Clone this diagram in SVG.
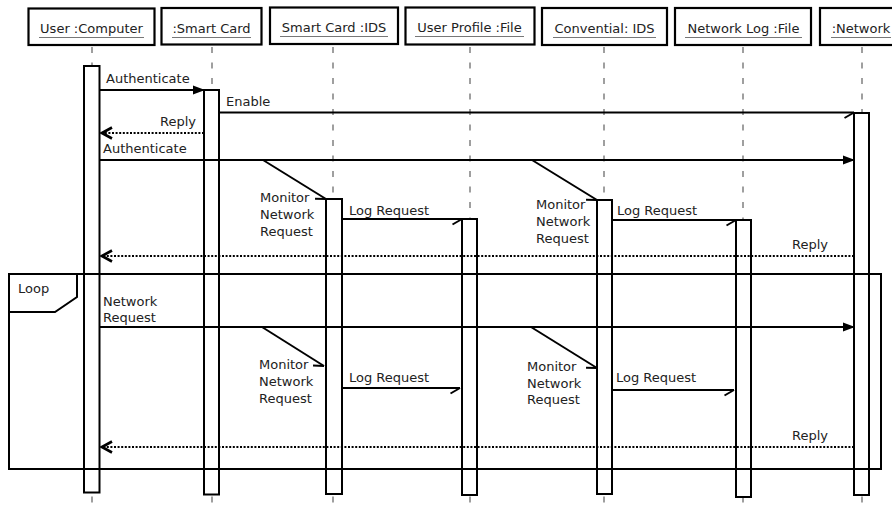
<svg xmlns="http://www.w3.org/2000/svg" width="892" height="511" viewBox="0 0 892 511">
<style>
  text { font-family: "DejaVu Sans", "Liberation Sans", sans-serif; font-size: 13px; fill: #222; }
  .hd { text-anchor: middle; }
  .ul { stroke: #777; stroke-width: 1.2; }
  .box { fill: #fff; stroke: #000; stroke-width: 2.2; }
  .life { stroke: #888; stroke-width: 1.6; stroke-dasharray: 6 9.5; fill: none; }
  .act { fill: #fff; stroke: #000; stroke-width: 2; }
  .msg { stroke: #000; stroke-width: 2; fill: none; }
  .ret { stroke: #000; stroke-width: 2.2; fill: none; stroke-dasharray: 2 1.6; }
  .frame { fill: none; stroke: #000; stroke-width: 2; }
</style>
<defs>
  <marker id="filled" viewBox="0 0 12 10" refX="11" refY="5" markerWidth="12" markerHeight="10" orient="auto" markerUnits="userSpaceOnUse">
    <path d="M0,0.5 L12,5 L0,9.5 z" fill="#000"/>
  </marker>
  <marker id="half" viewBox="-12 -2 14 10" refX="0" refY="0" markerWidth="14" markerHeight="10" orient="auto" markerUnits="userSpaceOnUse">
    <path d="M0,0 L-9.5,5.5" stroke="#000" stroke-width="2" fill="none"/>
  </marker>
  <marker id="open" viewBox="-13 -7 15 14" refX="0" refY="0" markerWidth="15" markerHeight="14" orient="auto" markerUnits="userSpaceOnUse">
    <path d="M-10,-5.5 L0,0 L-10,5.5" stroke="#000" stroke-width="2.6" fill="none"/>
  </marker>
</defs>
<rect x="0" y="0" width="892" height="511" fill="#fff"/>

<g id="user-computer">
  <line class="life" x1="92" y1="47" x2="92" y2="511"/>
  <rect class="box" x="28.5" y="8.5" width="126" height="36.5"/>
  <text class="hd" x="91.5" y="33">User :Computer</text>
  <line class="ul" x1="39" y1="37.5" x2="144" y2="37.5"/>
  <rect class="act" x="84" y="66" width="15.5" height="426.5"/>
</g>
<g id="smart-card">
  <line class="life" x1="212" y1="47" x2="212" y2="511"/>
  <rect class="box" x="161.5" y="8" width="100" height="36.5"/>
  <text class="hd" x="211.5" y="33">:Smart Card</text>
  <line class="ul" x1="172" y1="37.5" x2="251" y2="37.5"/>
  <rect class="act" x="204" y="90" width="15" height="404.5"/>
</g>
<g id="smart-card-ids">
  <line class="life" x1="333" y1="47" x2="333" y2="511"/>
  <rect class="box" x="270" y="7.5" width="128" height="36.5"/>
  <text class="hd" x="334" y="32">Smart Card :IDS</text>
  <line class="ul" x1="280" y1="36.5" x2="388" y2="36.5"/>
  <rect class="act" x="326" y="199" width="16" height="295"/>
</g>
<g id="user-profile-file">
  <line class="life" x1="470" y1="47" x2="470" y2="511"/>
  <rect class="box" x="405.5" y="7.5" width="129" height="37"/>
  <text class="hd" x="469.5" y="32">User Profile :File</text>
  <line class="ul" x1="415" y1="36.5" x2="524" y2="36.5"/>
  <rect class="act" x="462" y="219" width="15" height="276"/>
</g>
<g id="convential-ids">
  <line class="life" x1="604" y1="47" x2="604" y2="511"/>
  <rect class="box" x="542" y="8" width="125" height="37"/>
  <text class="hd" x="604.5" y="33">Convential: IDS</text>
  <line class="ul" x1="553" y1="37.5" x2="656" y2="37.5"/>
  <rect class="act" x="597" y="200" width="15" height="294"/>
</g>
<g id="network-log-file">
  <line class="life" x1="743" y1="47" x2="743" y2="511"/>
  <rect class="box" x="675" y="8" width="136" height="37"/>
  <text class="hd" x="743.5" y="33">Network Log :File</text>
  <line class="ul" x1="685" y1="37.5" x2="802" y2="37.5"/>
  <rect class="act" x="736" y="220" width="15" height="277"/>
</g>
<g id="network">
  <line class="life" x1="862" y1="47" x2="862" y2="511"/>
  <rect class="box" x="820" y="8" width="90" height="37"/>
  <text class="hd" x="861" y="33">:Network</text>
  <line class="ul" x1="831" y1="37.5" x2="891" y2="37.5"/>
  <rect class="act" x="854" y="113" width="15" height="382"/>
</g>

<g id="loop-fragment">
  <rect class="frame" x="9" y="274" width="872" height="195"/>
  <path class="frame" d="M9,312 L55,312 L77,297 L77,274"/>
  <text x="18" y="293">Loop</text>
</g>

<g id="connectors">
  <line class="msg" x1="99.5" y1="90" x2="204" y2="90" marker-end="url(#filled)"/>
  <text x="106" y="83">Authenticate</text>

  <line class="msg" x1="219" y1="112.5" x2="854" y2="112.5" marker-end="url(#half)"/>
  <text x="226" y="106">Enable</text>

  <line class="ret" x1="204" y1="133" x2="102" y2="133" marker-end="url(#open)"/>
  <text x="196" y="126" text-anchor="end">Reply</text>

  <line class="msg" x1="99.5" y1="160" x2="854" y2="160" marker-end="url(#filled)"/>
  <text x="103" y="153">Authenticate</text>

  <line class="msg" x1="263" y1="160" x2="326" y2="199" marker-end="url(#half)"/>
  <text x="260" y="201.5">Monitor</text>
  <text x="260" y="219">Network</text>
  <text x="260" y="236">Request</text>

  <line class="msg" x1="342" y1="219" x2="462" y2="219" marker-end="url(#half)"/>
  <text x="349" y="214.5">Log Request</text>

  <line class="msg" x1="532" y1="160" x2="597" y2="200" marker-end="url(#half)"/>
  <text x="536" y="208.5">Monitor</text>
  <text x="536" y="225.5">Network</text>
  <text x="536" y="243">Request</text>

  <line class="msg" x1="612" y1="220" x2="736" y2="220" marker-end="url(#half)"/>
  <text x="617" y="215">Log Request</text>

  <line class="ret" x1="854" y1="256" x2="102" y2="256" marker-end="url(#open)"/>
  <text x="828" y="249" text-anchor="end">Reply</text>

  <text x="103" y="305.5">Network</text>
  <text x="103" y="322">Request</text>
  <line class="msg" x1="99.5" y1="327" x2="854" y2="327" marker-end="url(#filled)"/>

  <line class="msg" x1="262" y1="327" x2="324" y2="366" marker-end="url(#half)"/>
  <text x="259" y="368.5">Monitor</text>
  <text x="259" y="385.5">Network</text>
  <text x="259" y="402.5">Request</text>

  <line class="msg" x1="342" y1="388" x2="460" y2="388" marker-end="url(#half)"/>
  <text x="349" y="382">Log Request</text>

  <line class="msg" x1="531" y1="327" x2="597" y2="368" marker-end="url(#half)"/>
  <text x="527" y="370.5">Monitor</text>
  <text x="527" y="387.5">Network</text>
  <text x="527" y="404">Request</text>

  <line class="msg" x1="612" y1="390" x2="734" y2="390" marker-end="url(#half)"/>
  <text x="616" y="382">Log Request</text>

  <line class="ret" x1="854" y1="447" x2="102" y2="447" marker-end="url(#open)"/>
  <text x="828" y="440" text-anchor="end">Reply</text>
</g>
</svg>
